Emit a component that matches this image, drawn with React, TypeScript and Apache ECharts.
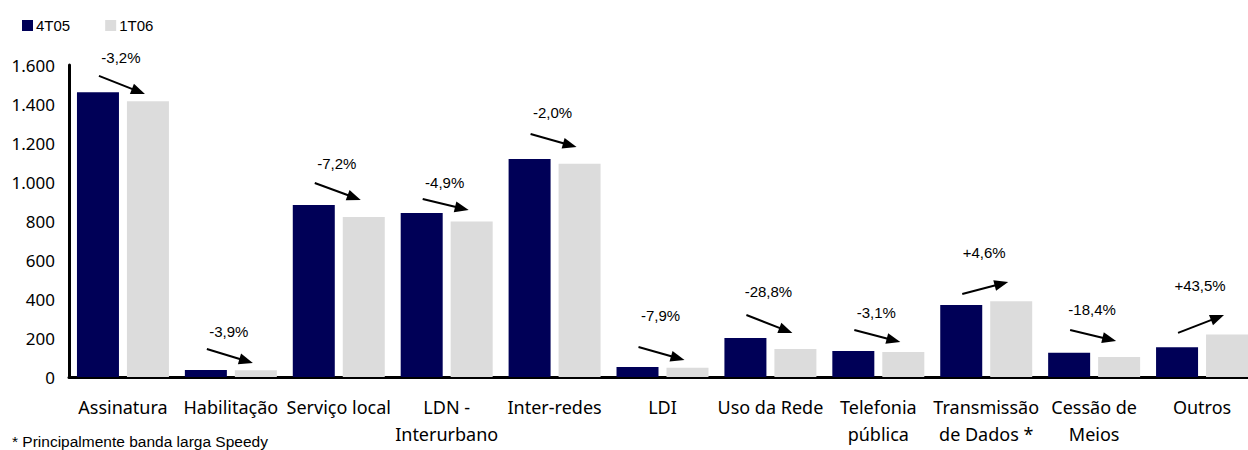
import React, { useEffect, useRef } from "react";
import * as echarts from "echarts";

const categories = [
  "Assinatura",
  "Habilitação",
  "Serviço local",
  "LDN -\nInterurbano",
  "Inter-redes",
  "LDI",
  "Uso da Rede",
  "Telefonia\npública",
  "Transmissão\nde Dados *",
  "Cessão de\nMeios",
  "Outros",
];
const series4T05 = [1460, 36, 882, 841, 1118, 51, 200, 133, 369, 124, 153];
const series1T06 = [1414, 35, 820, 798, 1094, 47, 143, 128, 388, 102, 218];
const changeLabels = ["-3,2%", "-3,9%", "-7,2%", "-4,9%", "-2,0%", "-7,9%", "-28,8%", "-3,1%", "+4,6%", "-18,4%", "+43,5%"];
// annotation levels in value units (arrow start, arrow end, label)
const arrowFrom = [1544, 144, 995, 913, 1246, 154, 318, 241, 426, 241, 226];
const arrowTo = [1451, 72, 908, 856, 1179, 87, 226, 179, 487, 185, 318];
const labelLevel = [1641, 231, 1097, 1000, 1354, 313, 436, 333, 636, 344, 467];
const yTicks = { min: 0, max: 1600, interval: 200 };

const fmtY = (v: number) => (v >= 1000 ? `${Math.floor(v / 1000)}.${String(v % 1000).padStart(3, "0")}` : String(v));

export default function App() {
  const ref = useRef<HTMLDivElement>(null);
  useEffect(() => {
    document.body.style.margin = "0";
    if (!ref.current) return;
    const chart = echarts.init(ref.current, null, { renderer: "svg" });
    const annData = categories.map((_, i) => [i, arrowFrom[i], arrowTo[i], labelLevel[i]]);
    chart.setOption({
      animation: false,
      legend: {
        left: 17,
        top: 13,
        itemWidth: 11,
        itemHeight: 11,
        itemGap: 35,
        icon: "rect",
        data: ["4T05", "1T06"],
        textStyle: { fontFamily: "Liberation Sans", fontSize: 15, color: "#000", padding: [0, 0, 0, -2] },
      },
      grid: { left: 69, top: 65, width: 1187, height: 312, outerBoundsMode: "none" },
      xAxis: {
        type: "category",
        data: categories,
        axisTick: { show: false },
        axisLine: { lineStyle: { color: "#000", width: 3 } },
        axisLabel: {
          interval: 0,
          margin: 16,
          fontFamily: "Noto Sans",
          fontSize: 18,
          lineHeight: 27,
          color: "#000",
        },
      },
      yAxis: {
        type: "value",
        min: yTicks.min,
        max: yTicks.max,
        interval: yTicks.interval,
        splitLine: { show: false },
        axisTick: { show: false },
        axisLine: { show: true, lineStyle: { color: "#000", width: 3 } },
        axisLabel: {
          margin: 14,
          fontFamily: "Noto Sans",
          fontSize: 17,
          color: "#000",
          formatter: fmtY,
        },
      },
      graphic: [
        {
          type: "text",
          left: 12,
          top: 433,
          style: {
            text: "* Principalmente banda larga Speedy",
            fontFamily: "Liberation Sans",
            fontSize: 15.5,
            fill: "#000",
          },
        },
      ],
      series: [
        {
          name: "4T05",
          type: "bar",
          data: series4T05,
          barWidth: 42,
          barGap: "19%",
          itemStyle: { color: "#000057" },
        },
        {
          name: "1T06",
          type: "bar",
          data: series1T06,
          barWidth: 42,
          barGap: "19%",
          itemStyle: { color: "#DCDCDC" },
        },
        {
          type: "custom",
          data: annData,
          z: 5,
          renderItem: (params: any, api: any) => {
            const i = api.value(0);
            const p0 = api.coord([i, api.value(1)]);
            const p1 = api.coord([i, api.value(2)]);
            const pt = api.coord([i, api.value(3)]);
            const x0 = p0[0] - 24;
            const y0 = p0[1];
            const x1 = p1[0] + 22;
            const y1 = p1[1];
            const dx = x1 - x0;
            const dy = y1 - y0;
            const len = Math.sqrt(dx * dx + dy * dy);
            const ux = dx / len;
            const uy = dy / len;
            const hl = 14;
            const hw = 5.5;
            const bx = x1 - ux * hl;
            const by = y1 - uy * hl;
            return {
              type: "group",
              children: [
                {
                  type: "line",
                  shape: { x1: x0, y1: y0, x2: bx + ux * 2, y2: by + uy * 2 },
                  style: { stroke: "#000", lineWidth: 2 },
                },
                {
                  type: "polygon",
                  shape: {
                    points: [
                      [x1, y1],
                      [bx - uy * hw, by + ux * hw],
                      [bx + uy * hw, by - ux * hw],
                    ],
                  },
                  style: { fill: "#000" },
                },
                {
                  type: "text",
                  x: pt[0] - 2,
                  y: pt[1],
                  style: {
                    text: changeLabels[params.dataIndex],
                    fontFamily: "Liberation Sans",
                    fontSize: 15,
                    fill: "#000",
                    align: "center",
                    verticalAlign: "middle",
                  },
                },
              ],
            };
          },
        },
      ],
    });
    return () => chart.dispose();
  }, []);
  return <div ref={ref} style={{ width: 1248, height: 450 }} />;
}
